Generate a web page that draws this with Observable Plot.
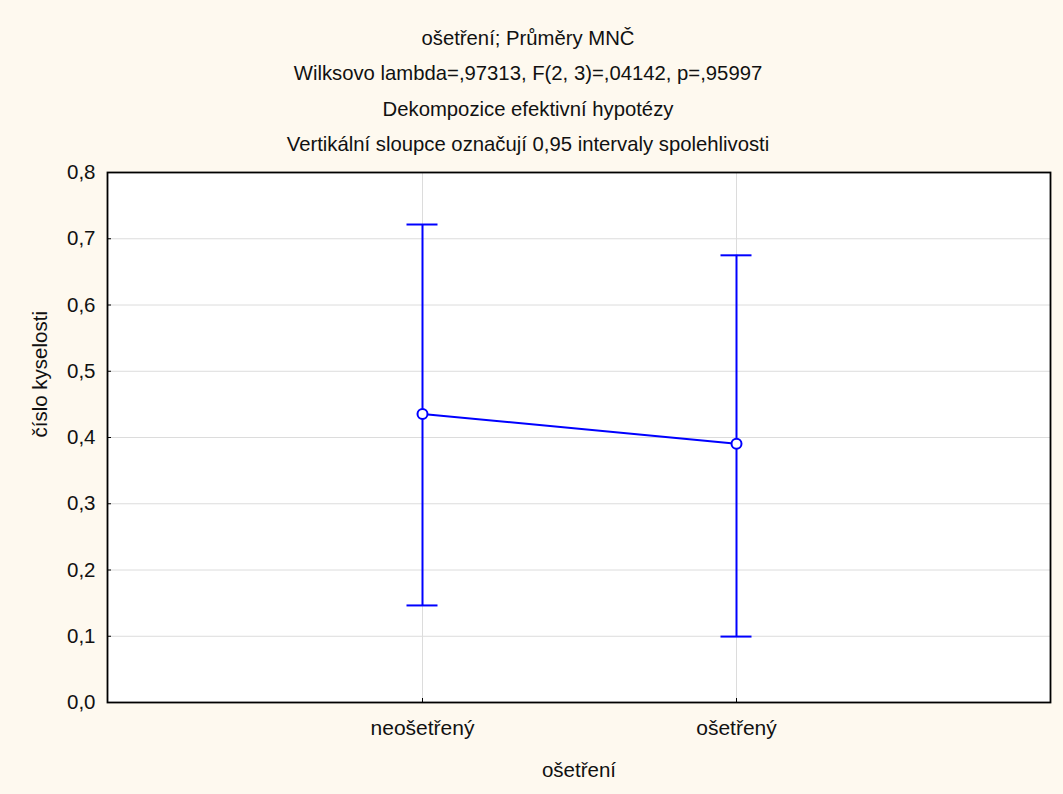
<!DOCTYPE html>
<html>
<head>
<meta charset="utf-8">
<script src="https://cdn.jsdelivr.net/npm/d3@7"></script>
<script src="https://cdn.jsdelivr.net/npm/@observablehq/plot@0.6"></script>
<style>
  html, body { margin: 0; padding: 0; background: #FEF9EF; }
  #chart { width: 1063px; height: 794px; }
</style>
</head>
<body>
<div id="chart"></div>
<script>
const categories = ["neošetřený", "ošetřený"];
const means = [0.4355, 0.3905];
const lower = [0.1465, 0.0995];
const upper = [0.7215, 0.6750];
const yTicks = [0, 0.1, 0.2, 0.3, 0.4, 0.5, 0.6, 0.7, 0.8];
const titleLines = [
  "ošetření; Průměry MNČ",
  "Wilksovo lambda=,97313, F(2, 3)=,04142, p=,95997",
  "Dekompozice efektivní hypotézy",
  "Vertikální sloupce označují 0,95 intervaly spolehlivosti"
];
const xLabel = "ošetření";
const yLabel = "číslo kyselosti";

const data = categories.map((c, i) => ({cat: c, mean: means[i], lo: lower[i], hi: upper[i]}));
const blue = "#0000FF";
const fmt = d => d.toFixed(1).replace(".", ",");

const chart = Plot.plot({
  width: 1063,
  height: 794,
  marginTop: 172,
  marginBottom: 92,
  marginLeft: 107,
  marginRight: 13,
  style: {fontFamily: "'Liberation Sans', Arial, sans-serif", fontSize: "20px", background: "#FEF9EF", color: "#111"},
  x: {type: "point", domain: categories, padding: 1},
  y: {domain: [0, 0.8]},
  marks: [
    Plot.frame({fill: "white", stroke: "none"}),
    Plot.gridY(yTicks, {stroke: "#dcdcdc", strokeOpacity: 1, strokeWidth: 1}),
    Plot.gridX(categories, {stroke: "#dcdcdc", strokeOpacity: 1, strokeWidth: 1}),
    Plot.axisY(yTicks, {tickFormat: fmt, tickSize: -4, tickPadding: 16, label: null, stroke: "#000", fontSize: 20.5}),
    Plot.axisX(categories, {tickSize: -4, tickPadding: 22, label: null, stroke: "#000", fontSize: 21}),
    Plot.frame({stroke: "#000", strokeWidth: 1.8}),
    Plot.ruleX(data, {x: "cat", y1: "lo", y2: "hi", stroke: blue, strokeWidth: 2}),
    Plot.ruleY(data, {x1: "cat", x2: "cat", y: "hi", stroke: blue, strokeWidth: 2, insetLeft: -15.5, insetRight: -15.5}),
    Plot.ruleY(data, {x1: "cat", x2: "cat", y: "lo", stroke: blue, strokeWidth: 2, insetLeft: -15.5, insetRight: -15.5}),
    Plot.line(data, {x: "cat", y: "mean", stroke: blue, strokeWidth: 2}),
    Plot.dot(data, {x: "cat", y: "mean", r: 5, stroke: blue, fill: "white", strokeWidth: 2}),
    Plot.text([titleLines.join("\n")], {frameAnchor: "top", dx: -51, dy: -153, lineAnchor: "top", lineHeight: 1.75, fill: "#111", fontSize: 20.3}),
    Plot.text([xLabel], {frameAnchor: "bottom", dy: 68, lineAnchor: "middle", fill: "#111", fontSize: 20.5}),
    Plot.text([yLabel], {frameAnchor: "left", dx: -67, rotate: -90, lineAnchor: "middle", fill: "#111", fontSize: 20.5})
  ]
});
document.getElementById("chart").appendChild(chart);
</script>
</body>
</html>
